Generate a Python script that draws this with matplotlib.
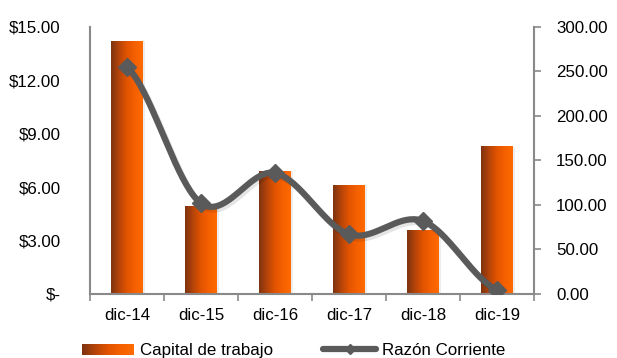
import numpy as np
import matplotlib
matplotlib.use("Agg")
import matplotlib.pyplot as plt
from matplotlib.colors import LinearSegmentedColormap
from matplotlib.lines import Line2D
from matplotlib.ticker import FuncFormatter
import matplotlib.patheffects as pe

# Capital de trabajo (left axis, $) and Razón Corriente (right axis)
periodos = ["dic-14", "dic-15", "dic-16", "dic-17", "dic-18", "dic-19"]
capital = [14.21, 4.89, 6.91, 6.12, 3.54, 8.26]
razon = [255.0, 102.0, 136.0, 67.0, 82.0, 4.5]

plt.rcParams["font.family"] = ["Liberation Sans", "DejaVu Sans"]
plt.rcParams["font.size"] = 12.2

naranja = LinearSegmentedColormap.from_list(
    "naranja", ["#7e3410", "#b5440a", "#e25400", "#f56000", "#ff6a00"])
grad = np.linspace(0, 1, 64).reshape(1, -1)
gris = "#898989"
linea = "#5a5a5a"


def suavizar(y, n=40):
    # Catmull-Rom through each point, like the smoothed line option
    p = np.concatenate([[y[0]], y, [y[-1]]])
    xs, ys = [], []
    for i in range(len(y) - 1):
        t = np.linspace(0, 1, n, endpoint=False)
        p0, p1, p2, p3 = p[i], p[i + 1], p[i + 2], p[i + 3]
        seg = 0.5 * ((2 * p1) + (-p0 + p2) * t + (2 * p0 - 5 * p1 + 4 * p2 - p3) * t ** 2
                     + (-p0 + 3 * p1 - 3 * p2 + p3) * t ** 3)
        xs.append(i + t)
        ys.append(seg)
    xs.append([len(y) - 1])
    ys.append([y[-1]])
    return np.concatenate(xs), np.concatenate(ys)


fig = plt.figure(figsize=(6.17, 3.58), dpi=100)
ax = fig.add_axes([0.1459, 0.1788, 0.7196, 0.7458])
x = np.arange(len(periodos))
w = 0.42

for xi, v in zip(x, capital):
    ax.bar(xi + 0.03, v, w, color="#000000", alpha=0.07, zorder=1)
    ax.imshow(grad, extent=[xi - w / 2, xi + w / 2, 0, v], aspect="auto",
              cmap=naranja, zorder=2, interpolation="bilinear")

ax.set_xlim(-0.5, len(periodos) - 0.5)
ax.set_ylim(0, 15)
ax.set_yticks(np.arange(0, 15.01, 3))
ax.yaxis.set_major_formatter(FuncFormatter(lambda v, _: "$-" if v == 0 else f"${v:.2f}"))
ax.set_xticks(x)
ax.set_xticklabels(periodos)
ax.set_xticks(np.arange(-0.5, len(periodos)), minor=True)
ax.tick_params(axis="x", which="major", length=0, pad=10)
ax.tick_params(axis="x", which="minor", length=5, width=1.2, color=gris, direction="out")
ax.tick_params(axis="y", length=0, pad=21)
for s in ["top", "right"]:
    ax.spines[s].set_visible(False)
for s in ["left", "bottom"]:
    ax.spines[s].set_color(gris)
    ax.spines[s].set_linewidth(1.5)

ax2 = ax.twinx()
ax2.set_ylim(0, 300)
ax2.set_yticks(np.arange(0, 300.1, 50))
ax2.yaxis.set_major_formatter(FuncFormatter(lambda v, _: f"{v:.2f}"))
ax2.tick_params(axis="y", length=5, width=1.2, color=gris, pad=11)
for s in ["top", "left", "bottom"]:
    ax2.spines[s].set_visible(False)
ax2.spines["right"].set_color(gris)
ax2.spines["right"].set_linewidth(1.5)

sx, sy = suavizar(np.array(razon))
sombra = [pe.SimpleLineShadow(offset=(1.5, -2), alpha=0.1, shadow_color="black"), pe.Normal()]
ax2.plot(sx, sy, color=linea, lw=4.5, solid_capstyle="round", zorder=3, path_effects=sombra)
ax2.plot(x, razon, ls="none", marker="D", ms=9, color=linea, zorder=4)

# legend along the bottom edge
lax = fig.add_axes([0.133, 0.0084, 0.084, 0.031])
lax.imshow(grad, aspect="auto", cmap=naranja, extent=[0, 1, 0, 1])
lax.axis("off")
fig.text(0.227, 0.0084, "Capital de trabajo", ha="left", va="baseline")
fig.add_artist(Line2D([0.524, 0.610], [0.025, 0.025], color=linea, lw=4.5,
                      solid_capstyle="round", transform=fig.transFigure))
fig.add_artist(Line2D([0.567], [0.025], marker="D", ms=5, color=linea, ls="none",
                      transform=fig.transFigure))
fig.text(0.619, 0.0084, "Razón Corriente", ha="left", va="baseline")

fig.savefig("out.png", dpi=100)
